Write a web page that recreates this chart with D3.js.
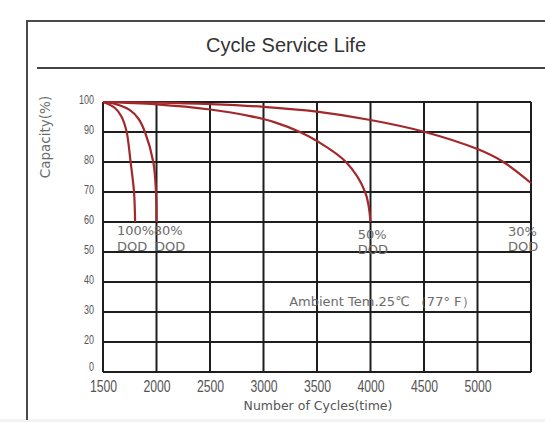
<!DOCTYPE html>
<html>
<head>
<meta charset="utf-8">
<script src="https://cdn.jsdelivr.net/npm/d3@7"></script>
<style>
  body { margin: 0; background: #fff; }
  svg { display: block; }
</style>
</head>
<body>
<svg id="chart" width="545" height="422"></svg>
<script>
// x ticks (cycles) and y ticks (capacity); bottom row is labelled "0" on the original
var xTicks = [1500, 2000, 2500, 3000, 3500, 4000, 4500, 5000];
var yTicks = [10, 20, 30, 40, 50, 60, 70, 80, 90, 100];
var yTickLabels = ["0", "20", "30", "40", "50", "60", "70", "80", "90", "100"];

// one curve per depth of discharge
var dod100Cycles = [1500, 1612, 1675, 1721, 1758, 1790, 1800];
var dod100Cap    = [100, 98, 95, 90, 80, 70, 60];
var dod80Cycles  = [1500, 1620, 1752, 1830, 1892, 1970, 1995, 2000];
var dod80Cap     = [100, 99.3, 97.3, 94.5, 90, 80, 70, 60];
var dod50Cycles  = [1500, 2000, 2500, 2875, 3100, 3340, 3500, 3771, 3950, 4000];
var dod50Cap     = [100, 99.2, 97.5, 95.3, 93.3, 90, 87, 80, 70, 60];
var dod30Cycles  = [1500, 2000, 2500, 3000, 3500, 4000, 4500, 5000, 5238, 5500];
var dod30Cap     = [100, 99.8, 99.3, 98.4, 96.8, 94, 90.1, 84.3, 80.1, 73];

var series = [
  {cycles: dod100Cycles, cap: dod100Cap},
  {cycles: dod80Cycles, cap: dod80Cap},
  {cycles: dod50Cycles, cap: dod50Cap},
  {cycles: dod30Cycles, cap: dod30Cap}
];

var svg = d3.select("#chart");
var W = 545, H = 422;
var margin = {left: 103, right: 14, top: 102, bottom: 50};

var x = d3.scaleLinear().domain([1500, 5500]).range([margin.left, W - margin.right]);
var y = d3.scaleLinear().domain([10, 100]).range([H - margin.bottom, margin.top]);

var grey = "#6b6b6b";
var sans = "'DejaVu Sans', Lato, sans-serif";
var plain = "'Liberation Sans', Arial, sans-serif";

// outer frame and light strip at the bottom
svg.append("rect").attr("x", 0).attr("y", 419).attr("width", W).attr("height", 3).attr("fill", "#f2f2f2");
svg.append("path")
    .attr("d", "M27,420V21H545")
    .attr("fill", "none").attr("stroke", "#4a4a4a").attr("stroke-width", 2);

// title and rule under it
svg.append("text")
    .attr("x", 286).attr("y", 52)
    .attr("text-anchor", "middle")
    .attr("font-family", plain)
    .attr("font-size", 20)
    .attr("fill", "#333")
    .text("Cycle Service Life");
svg.append("line")
    .attr("x1", 37).attr("x2", W).attr("y1", 68).attr("y2", 68)
    .attr("stroke", "#444").attr("stroke-width", 2);

// grid
var grid = svg.append("g").attr("stroke", "#1e1e1e").attr("stroke-width", 2);
grid.selectAll("line.v").data(xTicks.concat([5500])).enter().append("line")
    .attr("class", "v")
    .attr("x1", function(d) { return x(d); }).attr("x2", function(d) { return x(d); })
    .attr("y1", y(100)).attr("y2", y(10));
grid.selectAll("line.h").data(yTicks).enter().append("line")
    .attr("class", "h")
    .attr("x1", x(1500)).attr("x2", x(5500))
    .attr("y1", function(d) { return y(d); }).attr("y2", function(d) { return y(d); });

// axes (labels only, grid drawn above); labels squeezed to look condensed
var yAxis = d3.axisLeft(y).tickValues(yTicks).tickSize(0).tickPadding(12)
    .tickFormat(function(d, i) { return yTickLabels[i]; });
svg.append("g").attr("transform", "translate(" + margin.left + ",0)").call(yAxis)
    .call(function(g) { g.select(".domain").remove(); })
    .selectAll("text")
    .attr("font-family", plain).attr("font-size", 12).attr("fill", "#555")
    .attr("dy", function(d) { return d === 10 ? "-0.15em" : "0.1em"; })
    .attr("transform", "scale(0.75,1)");

var xAxis = d3.axisBottom(x).tickValues(xTicks).tickSize(0).tickPadding(8)
    .tickFormat(d3.format("d"));
svg.append("g").attr("transform", "translate(0," + y(10) + ")").call(xAxis)
    .call(function(g) { g.select(".domain").remove(); })
    .selectAll("text")
    .attr("font-family", plain).attr("font-size", 17).attr("fill", "#555")
    .attr("transform", "scale(0.72,1)");

// axis titles
svg.append("text")
    .attr("transform", "translate(50,137) rotate(-90)")
    .attr("text-anchor", "middle")
    .attr("font-family", sans).attr("font-size", 13.5)
    .attr("fill", grey)
    .text("Capacity(%)");
svg.append("text")
    .attr("x", 318).attr("y", 410)
    .attr("text-anchor", "middle")
    .attr("font-family", sans).attr("font-size", 12.5)
    .attr("fill", "#555")
    .text("Number of Cycles(time)");

// curves
var line = d3.line()
    .x(function(d) { return x(d[0]); })
    .y(function(d) { return y(d[1]); })
    .curve(d3.curveCatmullRom.alpha(0.5));

svg.append("g").selectAll("path").data(series).enter().append("path")
    .attr("d", function(s) { return line(d3.zip(s.cycles, s.cap)); })
    .attr("fill", "none")
    .attr("stroke", "#a3282b")
    .attr("stroke-width", 2.2);

// curve labels
var labels = [
  {t: "100%", cx: 1630, cap: 55.7}, {t: "DOD", cx: 1630, cap: 50.2},
  {t: "80%", cx: 1975, cap: 55.7}, {t: "DOD", cx: 1985, cap: 50.2},
  {t: "50%", cx: 3880, cap: 54.3}, {t: "DOD", cx: 3880, cap: 49.5},
  {t: "30%", cx: 5285, cap: 55.5}, {t: "DOD", cx: 5285, cap: 50.5}
];
svg.append("g").selectAll("text").data(labels).enter().append("text")
    .attr("x", function(d) { return x(d.cx); })
    .attr("y", function(d) { return y(d.cap); })
    .attr("font-family", sans).attr("font-size", 13)
    .attr("fill", grey)
    .text(function(d) { return d.t; });

svg.append("text")
    .attr("x", x(3240)).attr("y", y(32))
    .attr("font-family", sans).attr("font-size", 13)
    .attr("fill", grey)
    .text("Ambient Tem.25\u2103 \uff0877\u00b0 F\uff09");
</script>
</body>
</html>
